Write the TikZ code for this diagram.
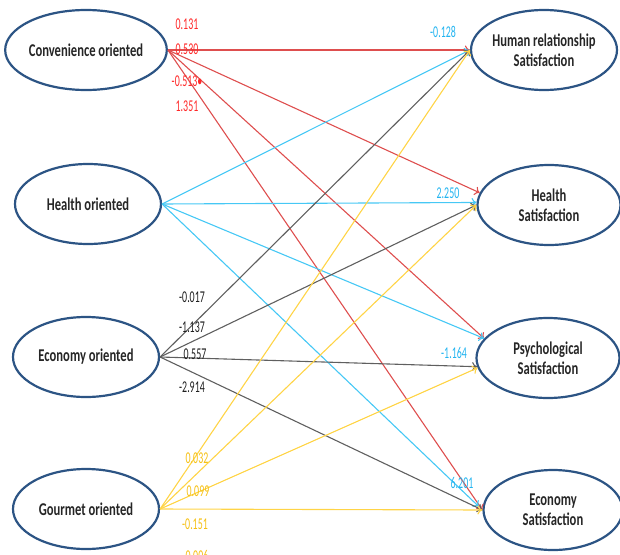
\documentclass[tikz,border=0pt]{standalone}
\usepackage{fontspec}
\setmainfont{Carlito}
\newfontfamily\nodefont[FakeStretch=0.7]{Carlito}
\newfontfamily\numfont[FakeStretch=0.6]{Carlito}
\usetikzlibrary{shapes.geometric,arrows.meta}
\definecolor{ellblue}{RGB}{44,84,132}
\definecolor{lred}{RGB}{222,78,78}
\definecolor{tred}{RGB}{255,40,40}
\definecolor{lblue}{RGB}{70,200,245}
\definecolor{tblue}{RGB}{35,180,240}
\definecolor{lgray}{RGB}{95,95,95}
\definecolor{tgray}{RGB}{30,30,30}
\definecolor{lyel}{RGB}{255,212,70}
\definecolor{tyel}{RGB}{245,192,20}
\begin{document}
\begin{tikzpicture}[x=1pt,y=-1pt,
  ell/.style={ellipse, draw=ellblue, line width=2.2pt, minimum width=146pt,
    minimum height=80pt, inner sep=0pt, align=center,
    font=\nodefont\bfseries\fontsize{18}{20}\selectfont, text=black!85},
  conn/.style={line width=1.1pt, -{To[length=5pt,width=9pt]}},
  lbl/.style={font=\numfont\fontsize{16.5}{17}\selectfont, inner sep=0pt},
]
\useasboundingbox (0,0) rectangle (620,554);
% source nodes
\node[ell] (conv) at (86,50) {Convenience oriented};
\node[ell] (heal) at (88,204) {Health oriented};
\node[ell] (econ) at (86,357) {Economy oriented};
\node[ell] (gour) at (86,509) {Gourmet oriented};
% target nodes
\node[ell, minimum width=143pt] (hum) at (544,50) {Human relationship\\Satisfaction};
\node[ell, minimum width=143pt] (hs) at (549,205) {Health\\Satisfaction};
\node[ell, minimum width=143pt] (ps) at (548,358) {Psychological\\Satisfaction};
\node[ell, minimum width=139pt] (es) at (553,510) {Economy\\Satisfaction};
% red connectors
\draw[conn, lred] (conv.east) -- (hum.west);
\draw[conn, lred] (conv.east) -- (hs.170);
\draw[conn, lred] (conv.east) -- (ps.163);
\draw[conn, lred] (conv.east) -- (es.west);
% blue connectors
\draw[conn, lblue] (heal.east) -- (hum.west);
\draw[conn, lblue] (heal.east) -- (hs.178);
\draw[conn, lblue] (heal.east) -- (ps.163);
\draw[conn, lblue, shorten >=5pt] (heal.east) -- (es.west);
% gray connectors
\draw[conn, lgray] (econ.east) -- (hum.west);
\draw[conn, lgray] (econ.east) -- (hs.west);
\draw[conn, lgray] (econ.east) -- (ps.187);
\draw[conn, lgray] (econ.east) -- (es.west);
% yellow connectors
\draw[conn, lyel] (gour.east) -- (hum.west);
\draw[conn, lyel] (gour.east) -- (hs.west);
\draw[conn, lyel] (gour.east) -- (ps.188);
\draw[conn, lyel] (gour.east) -- (es.west);
% red labels
\node[lbl, text=tred] (r1) at (187,24) {0.131};
\node[lbl, text=tred] (r2) at (187,49) {0.530};
\node[lbl, text=tred] (r3) at (187,81) {-0.513•};
\node[lbl, text=tred] (r4) at (187,106) {1.351};
% blue labels
\node[lbl, text=tblue] (b1) at (443,32) {-0.128};
\node[lbl, text=tblue] (b2) at (448,193) {2.250};
\node[lbl, text=tblue] (b3) at (454,353) {-1.164};
\node[lbl, text=tblue] (b4) at (462,483) {6.201};
% gray labels
\node[lbl, text=tgray] (g1) at (192,297) {-0.017};
\node[lbl, text=tgray] (g2) at (192,327) {-1.137};
\node[lbl, text=tgray] (g3) at (195,354) {0.557};
\node[lbl, text=tgray] (g4) at (192,387) {-2.914};
% yellow labels
\node[lbl, text=tyel] (y1) at (197,458) {0.032};
\node[lbl, text=tyel] (y2) at (198,491) {0.099};
\node[lbl, text=tyel] (y3) at (195,524) {-0.151};
\node[lbl, text=tyel] (y4) at (197,556) {0.006};
\end{tikzpicture}
\end{document}
